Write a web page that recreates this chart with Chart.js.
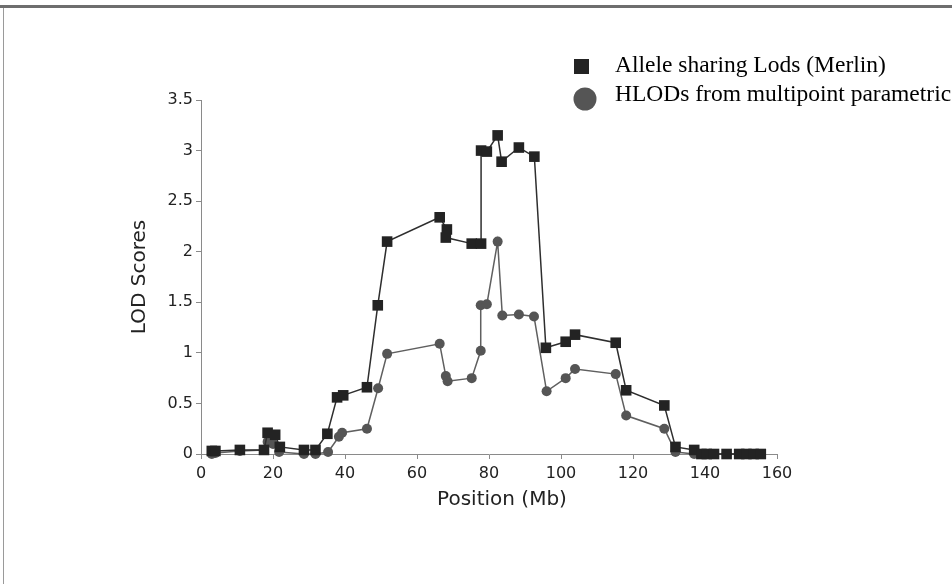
<!DOCTYPE html>
<html>
<head>
<meta charset="utf-8">
<script src="https://cdn.jsdelivr.net/npm/chart.js@4/dist/chart.umd.min.js"></script>
<style>
  html, body { margin: 0; padding: 0; background: #fff; }
  #frame { position: absolute; left: 0; top: 0; width: 952px; height: 584px; overflow: hidden; }
  #topRule { position: absolute; left: 0; top: 5px; width: 952px; height: 3px; background: #6e6e6e; }
  #leftRule { position: absolute; left: 3px; top: 8px; width: 1px; height: 576px; background: #9a9a9a; }
  canvas { position: absolute; left: 0; top: 0; }
</style>
</head>
<body>
<div id="frame">
  <div id="topRule"></div>
  <div id="leftRule"></div>
  <canvas id="lodChart" width="952" height="584"></canvas>
</div>
<script>
// --- data ---
const sharingLabel = "Allele sharing Lods (Merlin)";
const hlodLabel = "HLODs from multipoint parametric";
const xTitle = "Position (Mb)";
const yTitle = "LOD Scores";

const sharingPos = [3, 4, 10.8, 17.5, 18.5, 20.6, 21.9, 28.6, 31.8, 35.1, 37.8, 39.5, 46.1, 49.1, 51.7,
  66.3, 68.3, 68.0, 75.2, 77.8, 77.8, 79.4, 82.4, 83.5, 88.3, 92.6, 95.8, 101.3, 103.9, 115.2,
  118.1, 128.7, 131.8, 137, 139, 140.5, 142.5, 146, 149.5, 151.5, 153.5, 155.5];
const sharingLod = [0.03, 0.03, 0.04, 0.04, 0.21, 0.19, 0.07, 0.04, 0.04, 0.2, 0.56, 0.58, 0.66, 1.47, 2.1,
  2.34, 2.22, 2.14, 2.08, 2.08, 3.0, 2.99, 3.15, 2.89, 3.03, 2.94, 1.05, 1.11, 1.18, 1.1,
  0.63, 0.48, 0.07, 0.04, 0, 0, 0, 0, 0, 0, 0, 0];

const hlodPos = [3, 4, 10.8, 17.5, 18.5, 20, 21.7, 28.6, 31.8, 35.3, 38.3, 39.2, 46.1, 49.2, 51.7,
  66.3, 68.0, 68.5, 75.2, 77.7, 77.7, 79.4, 82.4, 83.7, 88.3, 92.5, 96, 101.3, 103.9, 115.2,
  118.1, 128.7, 131.8, 137, 139, 140.5, 142.5, 146, 149.5, 151.5, 153.5, 155.5];
const hlodLod = [0, 0.01, 0.03, 0.04, 0.12, 0.1, 0.02, 0, 0, 0.02, 0.17, 0.21, 0.25, 0.65, 0.99,
  1.09, 0.77, 0.72, 0.75, 1.02, 1.47, 1.48, 2.1, 1.37, 1.38, 1.36, 0.62, 0.75, 0.84, 0.79,
  0.38, 0.25, 0.02, 0, 0, 0, 0, 0, 0, 0, 0, 0];

const xTicks = [0, 20, 40, 60, 80, 100, 120, 140, 160];
const yTicks = [0, 0.5, 1, 1.5, 2, 2.5, 3, 3.5];

const toPoints = (xs, ys) => xs.map((x, i) => ({ x: x, y: ys[i] }));

const sansFamily = "'DejaVu Sans', Verdana, sans-serif";

// legend + x title drawn by hand: the long label runs off the right edge like the original,
// and the x title sits a little right of the axis centre
const extras = {
  id: "extras",
  afterDraw(chart) {
    const ctx = chart.ctx;
    const sets = chart.data.datasets;
    ctx.save();
    ctx.font = "23.5px 'Liberation Serif', 'Times New Roman', serif";
    ctx.textBaseline = "alphabetic";

    ctx.fillStyle = sets[0].backgroundColor;
    ctx.fillRect(574, 59, 15, 15);
    ctx.fillStyle = "#000";
    ctx.fillText(sets[0].label, 615, 72);

    ctx.beginPath();
    ctx.arc(585, 99, 11.5, 0, Math.PI * 2);
    ctx.fillStyle = sets[1].backgroundColor;
    ctx.fill();
    ctx.fillStyle = "#000";
    ctx.fillText(sets[1].label, 615, 101);

    ctx.font = "20px " + sansFamily;
    ctx.fillStyle = "#222";
    ctx.textAlign = "center";
    ctx.textBaseline = "middle";
    ctx.fillText(xTitle, 502, 500);
    ctx.restore();
  }
};

const tickFont = { family: sansFamily, size: 16 };

new Chart(document.getElementById("lodChart"), {
  type: "scatter",
  data: {
    datasets: [
      {
        label: sharingLabel,
        data: toPoints(sharingPos, sharingLod),
        showLine: true,
        borderColor: "#2e2e2e",
        borderWidth: 1.5,
        backgroundColor: "#232323",
        pointStyle: "rect",
        pointRadius: 7.5,
        pointBorderWidth: 0,
        pointBackgroundColor: "#232323",
        tension: 0,
      },
      {
        label: hlodLabel,
        data: toPoints(hlodPos, hlodLod),
        showLine: true,
        borderColor: "#5f5f5f",
        borderWidth: 1.5,
        backgroundColor: "#555555",
        pointStyle: "circle",
        pointRadius: 5,
        pointBorderWidth: 0,
        pointBackgroundColor: "#555555",
        tension: 0,
      },
    ],
  },
  options: {
    responsive: false,
    animation: false,
    events: [],
    layout: { padding: { left: 128, right: 175, top: 100, bottom: 74 } },
    clip: false,
    plugins: {
      legend: { display: false },
      tooltip: { enabled: false },
    },
    scales: {
      x: {
        type: "linear",
        min: 0,
        max: 160,
        afterBuildTicks: (s) => { s.ticks = xTicks.map((v) => ({ value: v })); },
        afterFit: (s) => { s.height = 56; },
        border: { display: true, color: "#8a8a8a", width: 1 },
        grid: { drawOnChartArea: false, drawTicks: true, tickLength: 5, color: "#8a8a8a" },
        ticks: { color: "#222", font: tickFont, padding: 5, maxRotation: 0 },
        title: { display: false, text: xTitle },
      },
      y: {
        type: "linear",
        min: 0,
        max: 3.5,
        afterBuildTicks: (s) => { s.ticks = yTicks.map((v) => ({ value: v })); },
        afterFit: (s) => { s.width = 73; },
        border: { display: true, color: "#8a8a8a", width: 1 },
        grid: { drawOnChartArea: false, drawTicks: true, tickLength: 5, color: "#8a8a8a" },
        ticks: { color: "#222", font: tickFont, padding: 3, callback: (v) => String(v) },
        title: { display: true, text: yTitle, color: "#222", font: { family: sansFamily, size: 20 }, padding: 0 },
      },
    },
  },
  plugins: [extras],
});
</script>
</body>
</html>
